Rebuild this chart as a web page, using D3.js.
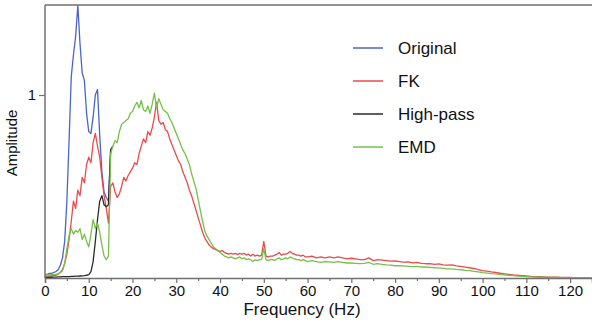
<!DOCTYPE html>
<html><head><meta charset="utf-8">
<script src="https://cdn.jsdelivr.net/npm/d3@7"></script>
<style>
html,body{margin:0;padding:0;background:#fff;}
text{font-family:"Liberation Sans",Arial,Helvetica,sans-serif;fill:#111;}
</style></head>
<body><svg id="c" width="592" height="323"></svg>
<script>
// Frequency grids (Hz)
const freqLow = d3.range(0, 60.001, 0.5);   // 0..60 step 0.5
const freqHigh = d3.range(61, 125.001, 1);  // 61..125 step 1

const seriesNames = ["Original", "FK", "High-pass", "EMD"];

const originalVals = [
  0.02,0.02,0.025,0.025,0.03,0.035,0.045,0.07,0.11,0.2,
  0.42,0.75,1.1,1.22,1.32,1.49,1.28,1.12,1.08,0.9,
  0.8,0.79,0.88,1.0,1.03,0.78,0.58,0.47,0.44,0.42,
  0.7,0.72
];

const highpassVals = [
  0.003,0.003,0.004,0.004,0.005,0.005,0.006,0.006,0.007,0.007,
  0.008,0.008,0.009,0.009,0.01,0.01,0.011,0.012,0.013,0.015,
  0.018,0.035,0.09,0.2,0.32,0.42,0.45,0.4,0.39,0.4,
  0.7,0.72
];

const fkLow = [
  0.01,0.01,0.012,0.012,0.015,0.015,0.02,0.03,0.045,0.08,
  0.13,0.21,0.31,0.42,0.38,0.48,0.45,0.55,0.52,0.62,
  0.66,0.63,0.74,0.79,0.72,0.66,0.55,0.45,0.38,0.3,
  0.5,0.52,0.47,0.44,0.46,0.5,0.55,0.53,0.56,0.58,
  0.6,0.63,0.62,0.68,0.72,0.76,0.74,0.8,0.78,0.82,
  0.88,0.96,0.86,0.84,0.85,0.81,0.8,0.76,0.73,0.7,
  0.67,0.64,0.62,0.58,0.55,0.52,0.48,0.45,0.41,0.37,
  0.33,0.29,0.25,0.22,0.2,0.18,0.17,0.16,0.155,0.15,
  0.145,0.15,0.14,0.135,0.13,0.135,0.13,0.135,0.128,0.135,
  0.13,0.135,0.125,0.13,0.12,0.13,0.12,0.125,0.12,0.125,
  0.2,0.12,0.115,0.12,0.12,0.125,0.13,0.14,0.125,0.13,
  0.13,0.135,0.145,0.135,0.13,0.125,0.125,0.12,0.125,0.115,
  0.115
];
const fkHigh = [
  0.12,0.11,0.115,0.11,0.115,0.11,0.115,0.11,0.105,0.108,
  0.105,0.1,0.1,0.11,0.095,0.1,0.098,0.095,0.092,0.093,
  0.09,0.087,0.088,0.083,0.085,0.08,0.078,0.078,0.075,0.077,
  0.072,0.07,0.072,0.066,0.063,0.06,0.056,0.052,0.046,0.04,
  0.037,0.033,0.03,0.026,0.023,0.02,0.017,0.015,0.013,0.011,
  0.009,0.008,0.007,0.006,0.005,0.004,0.004,0.003,0.003,0.003,
  0.002,0.002,0.002,0.002,0.002
];

const emdLow = [
  0.015,0.018,0.016,0.02,0.018,0.02,0.022,0.03,0.04,0.08,
  0.16,0.23,0.27,0.24,0.26,0.25,0.27,0.21,0.24,0.2,
  0.17,0.24,0.32,0.27,0.3,0.25,0.18,0.12,0.1,0.12,
  0.68,0.72,0.75,0.74,0.8,0.84,0.85,0.86,0.87,0.9,
  0.91,0.94,0.96,0.93,0.97,0.92,0.91,0.94,0.9,0.95,
  1.01,0.93,0.98,0.95,0.92,0.91,0.9,0.87,0.85,0.82,
  0.79,0.76,0.73,0.7,0.68,0.65,0.62,0.57,0.53,0.49,
  0.43,0.37,0.31,0.26,0.23,0.21,0.19,0.17,0.16,0.15,
  0.14,0.13,0.12,0.115,0.11,0.115,0.11,0.105,0.11,0.115,
  0.105,0.11,0.1,0.105,0.1,0.09,0.1,0.095,0.1,0.1,
  0.16,0.1,0.095,0.1,0.1,0.095,0.105,0.11,0.1,0.105,
  0.11,0.105,0.115,0.11,0.105,0.1,0.1,0.095,0.1,0.095,
  0.09
];
const emdHigh = [
  0.095,0.09,0.085,0.09,0.088,0.085,0.09,0.085,0.082,0.082,
  0.08,0.078,0.08,0.085,0.075,0.078,0.075,0.072,0.07,0.067,
  0.068,0.066,0.064,0.062,0.063,0.06,0.06,0.058,0.056,0.055,
  0.053,0.05,0.05,0.047,0.045,0.042,0.04,0.036,0.033,0.029,
  0.027,0.024,0.022,0.019,0.017,0.015,0.013,0.011,0.009,0.007,
  0.006,0.005,0.004,0.004,0.003,0.003,0.003,0.002,0.002,0.002,
  0.002,0.002,0.002,0.002,0.002
];

const xTicks = d3.range(0, 121, 10);
const xMinorTicks = d3.range(5, 126, 10);
const yTicks = [1];
const colors = ["#4b64c9", "#ec4a4c", "#2a2a2a", "#76c049"];

function zip(fr, vals) { return vals.map((v, i) => [fr[i], v]); }
const data = [
  zip(freqLow, originalVals),
  zip(freqLow, fkLow).concat(zip(freqHigh, fkHigh)),
  zip(freqLow, highpassVals),
  zip(freqLow, emdLow).concat(zip(freqHigh, emdHigh))
];

const svg = d3.select("#c");
const L = 45, R = 592, T = 5, B = 278;
const x = d3.scaleLinear().domain([0, 125]).range([L, R]);
const y = d3.scaleLinear().domain([0, 1]).range([B, 95]);

svg.append("defs").append("clipPath").attr("id", "clip")
  .append("rect").attr("x", L).attr("y", T).attr("width", R - L).attr("height", B - T);

const line = d3.line().x(d => x(d[0])).y(d => y(d[1]));
const g = svg.append("g").attr("clip-path", "url(#clip)");
[0, 1, 2, 3].forEach(i => {
  g.append("path").datum(data[i]).attr("d", line)
    .attr("fill", "none").attr("stroke", colors[i])
    .attr("stroke-width", 1.3).attr("stroke-linejoin", "round");
});

const axisColor = "#707070";
// frame: top line
svg.append("line").attr("x1", L).attr("x2", R).attr("y1", T).attr("y2", T)
  .attr("stroke", axisColor).attr("stroke-width", 1.5);

// x axis
const xa = svg.append("g").attr("transform", `translate(0,${B})`)
  .call(d3.axisBottom(x).tickValues(xTicks).tickSize(5).tickPadding(2).tickFormat(d3.format("d")));
xa.select(".domain").attr("stroke", axisColor).attr("stroke-width", 1.5);
xa.selectAll(".tick line").attr("stroke", axisColor).attr("stroke-width", 1.2);
xa.selectAll(".tick text").attr("font-size", 15).attr("fill", "#111")
  .attr("font-family", "Liberation Sans, Arial, sans-serif");
const xm = svg.append("g").attr("transform", `translate(0,${B})`)
  .call(d3.axisBottom(x).tickValues(xMinorTicks).tickSize(3).tickFormat(""));
xm.select(".domain").remove();
xm.selectAll(".tick line").attr("stroke", axisColor).attr("stroke-width", 1.2);

// y axis
const ya = svg.append("g").attr("transform", `translate(${L},0)`)
  .call(d3.axisLeft(y).tickValues(yTicks).tickSize(6).tickPadding(3).tickFormat(d3.format("d")));
ya.select(".domain").attr("d", `M0,${T}V${B}`).attr("stroke", axisColor).attr("stroke-width", 1.5);
ya.selectAll(".tick line").attr("stroke", axisColor).attr("stroke-width", 1.2);
ya.selectAll(".tick text").attr("font-size", 15).attr("fill", "#111")
  .attr("font-family", "Liberation Sans, Arial, sans-serif");

// axis titles
svg.append("text").attr("x", 302).attr("y", 315).attr("text-anchor", "middle")
  .attr("font-size", 17).text("Frequency (Hz)");
svg.append("text").attr("transform", "translate(17,143) rotate(-90)")
  .attr("text-anchor", "middle").attr("font-size", 15).text("Amplitude");

// legend
const legY = [48, 81, 114, 147];
seriesNames.forEach((n, i) => {
  svg.append("line").attr("x1", 353).attr("x2", 383).attr("y1", legY[i]).attr("y2", legY[i])
    .attr("stroke", colors[i]).attr("stroke-width", 1.5);
  svg.append("text").attr("x", 398).attr("y", legY[i]).attr("dy", "0.36em")
    .attr("font-size", 17).text(n);
});
</script></body></html>
